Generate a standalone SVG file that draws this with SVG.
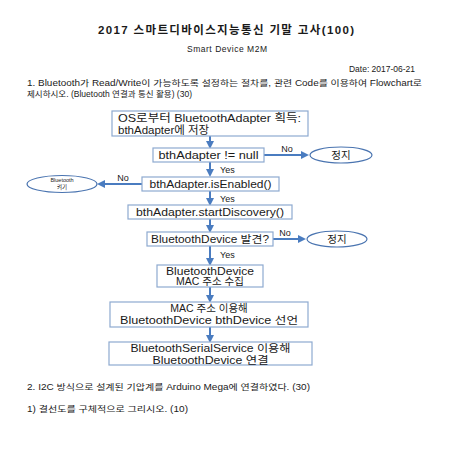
<svg xmlns="http://www.w3.org/2000/svg" width="453" height="453" viewBox="0 0 453 453">
<defs>
<style>
text{font-family:"Liberation Sans","Noto Sans CJK KR",sans-serif;fill:#1a1a1a}
.t{font-size:8.5px}
.b{font-size:10.5px;text-anchor:middle}
.box{fill:#fff;stroke:#8eaad0;stroke-width:1.2}
.ell{fill:#fff;stroke:#4a74b0;stroke-width:1.2}
.c{stroke:#4a7cc0;stroke-width:2;fill:none;marker-end:url(#ah)}
.lab{font-size:9px}
</style>
<marker id="ah" markerWidth="4" markerHeight="4" refX="3" refY="2" orient="auto" markerUnits="strokeWidth">
<path d="M0,0 L4,2 L0,4 z" fill="#4a7cc0"/>
</marker>
</defs>
<rect width="453" height="453" fill="#fff"/>
<g id="header">
<text x="226" y="34" font-size="11.5" font-weight="bold" text-anchor="middle" textLength="256">2017 스마트디바이스지능통신  기말 고사(100)</text>
<text x="227" y="52" class="t" text-anchor="middle" textLength="80">Smart Device M2M</text>
<text x="415" y="72" class="t" text-anchor="end" textLength="66">Date: 2017-06-21</text>
<text x="27" y="86" class="t" textLength="395" lengthAdjust="spacingAndGlyphs">1. Bluetooth가 Read/Write이 가능하도록 설정하는 절차를, 관련 Code를 이용하여 Flowchart로</text>
<text x="27" y="97" class="t" textLength="165" lengthAdjust="spacingAndGlyphs">제시하시오. (Bluetooth 연결과 통신 활용) (30)</text>
</g>
<g id="connectors">
<line class="c" x1="210" y1="136" x2="210" y2="147"/>
<line class="c" x1="264" y1="155" x2="307" y2="155"/>
<line class="c" x1="210" y1="162" x2="210" y2="175"/>
<line class="c" x1="142" y1="184" x2="99" y2="184"/>
<line class="c" x1="210" y1="190" x2="210" y2="204"/>
<line class="c" x1="210" y1="219" x2="210" y2="231"/>
<line class="c" x1="273" y1="239" x2="304" y2="239"/>
<line class="c" x1="210" y1="246" x2="210" y2="264"/>
<line class="c" x1="210" y1="287" x2="210" y2="301"/>
<line class="c" x1="210" y1="327" x2="210" y2="341"/>
<text x="287" y="152" class="lab" text-anchor="middle">No</text>
<text x="220" y="173" class="lab">Yes</text>
<text x="123" y="181" class="lab" text-anchor="middle">No</text>
<text x="220" y="202" class="lab">Yes</text>
<text x="285" y="236" class="lab" text-anchor="middle">No</text>
<text x="220" y="258" class="lab">Yes</text>
</g>
<g id="n1">
<rect class="box" x="112" y="111" width="196" height="25"/>
<text x="118" y="122" font-size="11.5" textLength="183" lengthAdjust="spacingAndGlyphs">OS로부터 BluetoothAdapter 획득:</text>
<text x="118" y="134" font-size="11.5">bthAdapter에 저장</text>
</g>
<g id="n2">
<rect class="box" x="153" y="148" width="111" height="14"/>
<text x="208.5" y="158.5" class="b" textLength="100" lengthAdjust="spacingAndGlyphs">bthAdapter != null</text>
</g>
<g id="stop1">
<ellipse class="ell" cx="341" cy="155" rx="31" ry="8"/>
<text x="341" y="158.5" class="b" font-size="9">정지</text>
</g>
<g id="n3">
<rect class="box" x="142" y="177" width="137" height="14"/>
<text x="210.5" y="187.5" class="b" textLength="122" lengthAdjust="spacingAndGlyphs">bthAdapter.isEnabled()</text>
</g>
<g id="btOn">
<ellipse class="ell" cx="62" cy="184" rx="35" ry="8.5"/>
<text x="62" y="182" text-anchor="middle" font-size="5.5">Bluetooth</text>
<text x="62" y="189" text-anchor="middle" font-size="5.5">켜기</text>
</g>
<g id="n4">
<rect class="box" x="128" y="205" width="164" height="14"/>
<text x="210" y="215.5" class="b" textLength="148" lengthAdjust="spacingAndGlyphs">bthAdapter.startDiscovery()</text>
</g>
<g id="n5">
<rect class="box" x="147" y="232" width="126" height="14"/>
<text x="210" y="242.5" class="b" font-size="10" textLength="118" lengthAdjust="spacingAndGlyphs">BluetoothDevice 발견?</text>
</g>
<g id="stop2">
<ellipse class="ell" cx="337" cy="239" rx="30" ry="8"/>
<text x="337" y="242.5" class="b" font-size="9">정지</text>
</g>
<g id="n6">
<rect class="box" x="157" y="265" width="106" height="22"/>
<text x="210" y="274.5" class="b" font-size="9.5" textLength="88" lengthAdjust="spacingAndGlyphs">BluetoothDevice</text>
<text x="210" y="285" class="b" font-size="9.5">MAC 주소 수집</text>
</g>
<g id="n7">
<rect class="box" x="110" y="302" width="198" height="25"/>
<text x="209" y="312" class="b">MAC 주소 이용해</text>
<text x="209" y="323.5" class="b" textLength="178" lengthAdjust="spacingAndGlyphs">BluetoothDevice bthDevice 선언</text>
</g>
<g id="n8">
<rect class="box" x="109" y="342" width="203" height="23"/>
<text x="210.5" y="352" class="b" textLength="160" lengthAdjust="spacingAndGlyphs">BluetoothSerialService 이용해</text>
<text x="210.5" y="363.5" class="b" textLength="116" lengthAdjust="spacingAndGlyphs">BluetoothDevice 연결</text>
</g>
<g id="footer">
<text x="27" y="390" class="t" textLength="283" lengthAdjust="spacingAndGlyphs">2. I2C 방식으로 설계된 기압계를 Arduino Mega에 연결하였다. (30)</text>
<text x="27" y="412" class="t" textLength="161" lengthAdjust="spacingAndGlyphs">1) 결선도를 구체적으로 그리시오. (10)</text>
</g>
</svg>
